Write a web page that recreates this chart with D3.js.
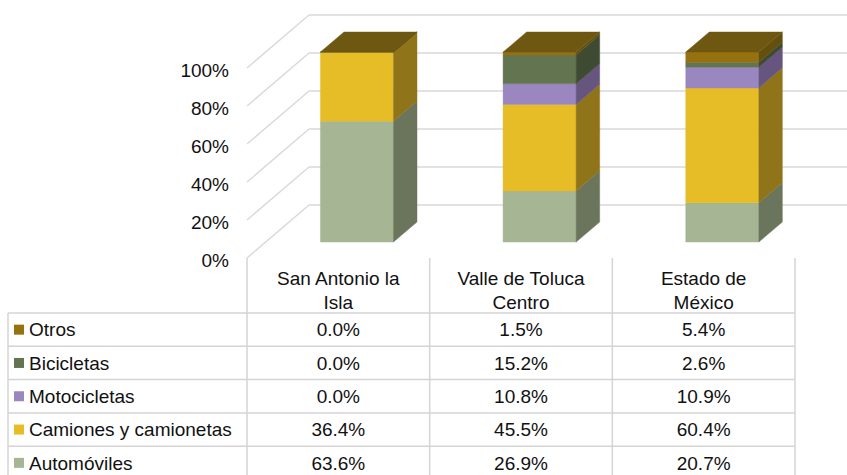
<!DOCTYPE html>
<html>
<head>
<meta charset="utf-8">
<script src="https://cdn.jsdelivr.net/npm/d3@7"></script>
<style>
body{margin:0;background:#fff;}
svg text{font-family:Arial,"Liberation Sans",sans-serif;font-size:19px;fill:#111;}
</style>
</head>
<body>
<svg width="847" height="475"></svg>
<script>
var categories = ["San Antonio la Isla","Valle de Toluca Centro","Estado de México"];
var seriesNames = ["Automóviles","Camiones y camionetas","Motocicletas","Bicicletas","Otros"];
var automoviles = [63.6,26.9,20.7];
var camiones = [36.4,45.5,60.4];
var motocicletas = [0.0,10.8,10.9];
var bicicletas = [0.0,15.2,2.6];
var otros = [0.0,1.5,5.4];
var yTicks = [0,0.2,0.4,0.6,0.8,1];

var values = [automoviles,camiones,motocicletas,bicicletas,otros];

var svg = d3.select("svg")

var front = d3.scaleOrdinal().domain(seriesNames)
  .range(["#A6B593","#E6BC27","#9B87C0","#627550","#95720F"])
var side = d3.scaleOrdinal().domain(seriesNames)
  .range(["#6B755C","#8F7419","#66557F","#3F4A33","#64500C"])
var topColor = "#6E5710"

// 3d box: depth offset of the walls
var DX = 62, DY = 53;
var D0 = 0.3, D1 = 0.68;

var x = d3.scaleBand().domain(categories).range([247,795])
var y = d3.scaleLinear().domain([0,1]).range([258,68])
var bw = x.bandwidth()*0.4;

function P(xv,v,d){ return [xv+d*DX, y(v)-d*DY] }
function pts(a){ return a.map(p=>p.join(",")).join(" ") }

// walls
var grid = svg.append("g")
yTicks.forEach(function(t){
  var a = P(247,t,0), b = P(247,t,1)
  grid.append("line").attr("x1",a[0]).attr("y1",a[1]).attr("x2",b[0]).attr("y2",b[1])
  grid.append("line").attr("x1",b[0]).attr("y1",b[1]).attr("x2",870).attr("y2",b[1])
})
grid.selectAll("line").attr("stroke","#D9D9D9").attr("stroke-width",1.4)

// y axis
var yAxis = svg.append("g").attr("transform","translate(229,2)")
  .call(d3.axisLeft(y).tickValues(yTicks).tickFormat(d3.format(".0%")).tickSize(0).tickPadding(0))
yAxis.select(".domain").remove()

// stacked bars
var rows = categories.map(function(c,i){
  var r = {cat:c}
  seriesNames.forEach((s,j)=>r[s]=values[j][i])
  return r
})
var stacked = d3.stack().keys(seriesNames).offset(d3.stackOffsetExpand)(rows)

var bars = svg.append("g")
stacked.forEach(function(layer,li){
  layer.forEach(function(d){
    var x0 = x(d.data.cat)+x.bandwidth()/2-bw/2, x1 = x0+bw;
    var v0 = d[0], v1 = d[1];
    bars.append("polygon")
      .attr("points",pts([P(x0,v0,D0),P(x1,v0,D0),P(x1,v1,D0),P(x0,v1,D0)]))
      .attr("fill",front(layer.key)).attr("stroke",front(layer.key)).attr("stroke-width",0.4)
    bars.append("polygon")
      .attr("points",pts([P(x1,v0,D0),P(x1,v0,D1),P(x1,v1,D1),P(x1,v1,D0)]))
      .attr("fill",side(layer.key)).attr("stroke",side(layer.key)).attr("stroke-width",0.4)
    if (li == stacked.length-1){
      bars.append("polygon")
        .attr("points",pts([P(x0,v1,D0),P(x1,v1,D0),P(x1,v1,D1),P(x0,v1,D1)]))
        .attr("fill",topColor).attr("stroke",topColor).attr("stroke-width",0.4)
    }
  })
})

// data table
var tableRows = seriesNames.slice().reverse()
var ry = d3.scaleBand().domain(tableRows).range([313,313+5*33.3])
var tLeft = 8, tBottom = 480;
var table = svg.append("g")

tableRows.forEach(function(s){
  table.append("line").attr("x1",tLeft).attr("x2",795).attr("y1",ry(s)).attr("y2",ry(s))
})
table.append("line").attr("x1",tLeft).attr("x2",795).attr("y1",ry.range()[1]).attr("y2",ry.range()[1])
table.append("line").attr("x1",tLeft).attr("x2",tLeft).attr("y1",313).attr("y2",tBottom)
categories.forEach(function(c){
  table.append("line").attr("x1",x(c)).attr("x2",x(c)).attr("y1",258).attr("y2",tBottom)
})
table.append("line").attr("x1",795).attr("x2",795).attr("y1",258).attr("y2",tBottom)
table.selectAll("line").attr("stroke","#D4D4D4").attr("stroke-width",1.5)

// header, wrapped on two lines
categories.forEach(function(c){
  var t = table.append("text").attr("text-anchor","middle")
  var words = c.split(" "), line = [], lines = [];
  var probe = svg.append("text")
  words.forEach(function(w){
    line.push(w)
    probe.text(line.join(" "))
    if (probe.node().getComputedTextLength() > 140 && line.length > 1){
      line.pop(); lines.push(line.join(" ")); line = [w]
    }
  })
  lines.push(line.join(" "))
  probe.remove()
  lines.forEach(function(l,i){
    t.append("tspan").attr("x",x(c)+x.bandwidth()/2).attr("y",285+i*24).text(l)
  })
})

// legend keys and values
var fmt = d3.format(".1f")
tableRows.forEach(function(s){
  var j = seriesNames.indexOf(s)
  var cy = ry(s)+ry.bandwidth()/2
  table.append("rect").attr("x",14).attr("y",cy-5).attr("width",10).attr("height",10).attr("fill",front(s))
  table.append("text").attr("x",29).attr("y",cy).attr("dy","0.35em").text(s)
  categories.forEach(function(c,i){
    table.append("text").attr("x",x(c)+x.bandwidth()/2).attr("y",cy).attr("dy","0.35em")
      .attr("text-anchor","middle").text(fmt(values[j][i])+"%")
  })
})
</script>
</body>
</html>
